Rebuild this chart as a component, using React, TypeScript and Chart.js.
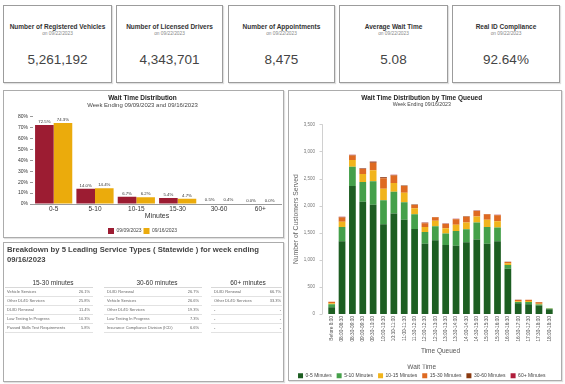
import React, { useEffect, useRef } from "react";
import { Chart, registerables } from "chart.js";

Chart.register(...registerables);

const FONT = "'Liberation Sans', Arial, Helvetica, sans-serif";

// ---------- KPI cards ----------
const kpiTitles = [
  "Number of Registered Vehicles",
  "Number of Licensed Drivers",
  "Number of Appointments",
  "Average Wait Time",
  "Real ID Compliance",
];
const kpiDates = ["on 09/22/2023", "on 09/22/2023", "on 09/22/2023", "on 09/22/2023", "on 09/22/2023"];
const kpiValues = ["5,261,192", "4,343,701", "8,475", "5.08", "92.64%"];

// ---------- Wait Time Distribution ----------
const minuteBuckets = ["0-5", "5-10", "10-15", "15-30", "30-60", "60+"];
const weekNames = ["09/09/2023", "09/16/2023"];
const week0909 = [72.5, 14.0, 6.7, 5.4, 0.5, 0.0];
const week0916 = [74.3, 14.4, 6.2, 4.7, 0.4, 0.0];

// ---------- Wait Time Distribution by Time Queued ----------
const timeSlots = [
  "Before 8:00", "08:00-08:30", "08:30-09:00", "09:00-09:30", "09:30-10:00", "10:00-10:30",
  "10:30-11:00", "11:00-11:30", "11:30-12:00", "12:00-12:30", "12:30-13:00", "13:00-13:30",
  "13:30-14:00", "14:00-14:30", "14:30-15:00", "15:00-15:30", "15:30-16:00", "16:00-16:30",
  "16:30-17:00", "17:00-17:30", "17:30-18:00", "18:00-18:30",
];
const waitBandNames = ["0-5 Minutes", "5-10 Minutes", "10-15 Minutes", "15-30 Minutes", "30-60 Minutes", "60+ Minutes"];
const wait0to5 = [125, 1340, 2360, 2070, 2015, 1655, 1855, 1740, 1570, 1295, 1360, 1272, 1260, 1325, 1375, 1295, 1340, 835, 200, 180, 155, 87];
const wait5to10 = [55, 265, 355, 365, 435, 445, 400, 320, 270, 220, 260, 215, 270, 240, 315, 310, 255, 70, 20, 40, 20, 15];
const wait10to15 = [20, 95, 125, 150, 200, 210, 160, 175, 110, 90, 100, 95, 118, 125, 110, 135, 118, 30, 15, 20, 15, 3];
const wait15to30 = [25, 80, 85, 90, 140, 195, 140, 125, 60, 70, 65, 80, 100, 105, 100, 100, 110, 25, 25, 22, 28, 0];
const wait30to60 = [3, 10, 10, 10, 20, 20, 10, 10, 10, 10, 5, 5, 7, 7, 7, 5, 5, 5, 3, 3, 5, 0];
const wait60plus = [0, 2, 2, 2, 3, 3, 2, 2, 1, 1, 1, 1, 1, 1, 1, 1, 1, 1, 0, 0, 0, 0];

// ---------- Breakdown table ----------
const tableHeaders = ["15-30 minutes", "30-60 minutes", "60+ minutes"];
const services1530 = ["Vehicle Services", "Other DL/ID Services", "DL/ID Renewal", "Law Testing In Progress", "Passed Skills Test Requirements"];
const shares1530 = ["26.1%", "25.8%", "11.4%", "10.3%", "5.8%"];
const services3060 = ["DL/ID Renewal", "Vehicle Services", "Other DL/ID Services", "Law Testing In Progress", "Insurance Compliance Division (ICD)"];
const shares3060 = ["26.7%", "26.6%", "19.3%", "7.3%", "6.6%"];
const services60 = ["DL/ID Renewal", "Other DL/ID Services", "-", "-", "-"];
const shares60 = ["66.7%", "33.3%", "-", "-", "-"];

const CRIMSON = "#9c1c32";
const GOLD = "#ebab0c";
const BAND_COLORS = ["#1d5e22", "#45a04a", "#f1b41c", "#de6a22", "#8a3a10", "#b01e3c"];

function legendHeight(h: number) {
  return {
    id: "legendHeightFix",
    beforeUpdate(chart: any) {
      const box = chart.legend;
      if (!box || box.__fixed) return;
      const orig = box.fit;
      box.fit = function () {
        orig.call(this);
        this.height = h;
      };
      box.__fixed = true;
    },
  };
}

const valueLabels = {
  id: "valueLabels",
  afterDatasetsDraw(chart: any) {
    const ctx = chart.ctx;
    ctx.save();
    ctx.font = `4.3px ${FONT}`;
    ctx.fillStyle = "#333";
    ctx.textAlign = "center";
    ctx.textBaseline = "bottom";
    chart.data.datasets.forEach((ds: any, i: number) => {
      const meta = chart.getDatasetMeta(i);
      meta.data.forEach((bar: any, j: number) => {
        const v = Number(ds.data[j]);
        ctx.fillText(v.toFixed(1) + "%", bar.x, bar.y - 1.2);
      });
    });
    ctx.restore();
  },
};

const axisLine = {
  id: "axisLine",
  afterDraw(chart: any) {
    const { ctx, chartArea } = chart;
    const y = chart.scales.y;
    const x = Math.round(chartArea.left - 4.5) + 0.5;
    ctx.save();
    ctx.strokeStyle = "#d0d0d0";
    ctx.lineWidth = 1;
    ctx.beginPath();
    ctx.moveTo(x, chartArea.top);
    ctx.lineTo(x, chartArea.bottom);
    y.ticks.forEach((t: any) => {
      const py = Math.round(y.getPixelForValue(t.value)) + 0.5;
      ctx.moveTo(x - 3, py);
      ctx.lineTo(x, py);
    });
    ctx.stroke();
    ctx.restore();
  },
};

function WaitDistChart() {
  const ref = useRef<HTMLCanvasElement>(null);
  useEffect(() => {
    const chart = new Chart(ref.current as HTMLCanvasElement, {
      type: "bar",
      data: {
        labels: minuteBuckets,
        datasets: [
          { label: weekNames[0], data: week0909, backgroundColor: CRIMSON, categoryPercentage: 0.9, barPercentage: 1 },
          { label: weekNames[1], data: week0916, backgroundColor: GOLD, categoryPercentage: 0.9, barPercentage: 1 },
        ],
      },
      options: {
        responsive: false,
        animation: false,
        devicePixelRatio: 1,
        layout: { padding: { left: 0, right: 2, top: 0, bottom: 0 } },
        plugins: {
          title: {
            display: true,
            text: "Wait Time Distribution",
            color: "#222",
            font: { family: FONT, size: 6.5, weight: "bold", lineHeight: 1 },
            padding: { top: 4.45, bottom: 0 },
          },
          subtitle: {
            display: true,
            text: "Week Ending 09/09/2023 and 09/16/2023",
            color: "#444",
            font: { family: FONT, size: 6, lineHeight: 1 },
            padding: { top: 0, bottom: 8.75 },
          },
          legend: {
            position: "bottom",
            labels: { boxWidth: 6, boxHeight: 6, padding: 2, color: "#444", font: { family: FONT, size: 5 } },
          },
          tooltip: { enabled: false },
        },
        scales: {
          x: {
            grid: { display: false, drawTicks: false },
            border: { display: true, color: "#9a9a9a" },
            ticks: { color: "#333", font: { family: FONT, size: 6.5 }, padding: 1.8, maxRotation: 0 },
            title: { display: true, text: "Minutes", color: "#333", font: { family: FONT, size: 7 }, padding: { top: 0, bottom: 6.1 } },
            afterFit: (s: any) => { s.height = 22; },
          },
          y: {
            min: 0,
            max: 80,
            ticks: { stepSize: 10, callback: (v: any) => v + "%", color: "#333", font: { family: FONT, size: 5 }, padding: 2 },
            grid: { drawOnChartArea: false, drawTicks: true, tickLength: 3, color: "#9a9a9a" },
            border: { display: false },
            afterFit: (s: any) => { s.width = 29; },
          },
        },
      } as any,
      plugins: [legendHeight(11), valueLabels],
    });
    return () => chart.destroy();
  }, []);
  return <canvas ref={ref} width={279} height={146} style={{ width: 279, height: 146, display: "block" }} />;
}

function TimeQueuedChart() {
  const ref = useRef<HTMLCanvasElement>(null);
  useEffect(() => {
    const series = [wait0to5, wait5to10, wait10to15, wait15to30, wait30to60, wait60plus];
    const chart = new Chart(ref.current as HTMLCanvasElement, {
      type: "bar",
      data: {
        labels: timeSlots,
        datasets: series.map((d, i) => ({
          label: waitBandNames[i],
          data: d,
          backgroundColor: BAND_COLORS[i],
          categoryPercentage: 0.65,
          barPercentage: 1,
          stack: "s",
        })),
      },
      options: {
        responsive: false,
        animation: false,
        devicePixelRatio: 1,
        layout: { padding: { left: 0, right: 6.5, top: 0, bottom: 0 } },
        plugins: {
          title: {
            display: true,
            text: "Wait Time Distribution by Time Queued",
            color: "#222",
            font: { family: FONT, size: 6.5, weight: "bold", lineHeight: 1 },
            padding: { top: 4.45, bottom: 0 },
          },
          subtitle: {
            display: true,
            text: "Week Ending 09/16/2023",
            color: "#444",
            font: { family: FONT, size: 5.2, lineHeight: 1 },
            padding: { top: 0.15, bottom: 17 },
          },
          legend: {
            position: "bottom",
            title: { display: true, text: "Wait Time", color: "#555", font: { family: FONT, size: 6.5 }, padding: { top: 0, bottom: -4.05 } },
            labels: { boxWidth: 5, boxHeight: 5, padding: 5, color: "#444", font: { family: FONT, size: 5 } },
          },
          tooltip: { enabled: false },
        },
        scales: {
          x: {
            stacked: true,
            grid: { display: false, drawTicks: false },
            border: { display: false },
            ticks: { color: "#555", font: { family: FONT, size: 4.8 }, padding: 2, minRotation: 90, maxRotation: 90, autoSkip: false },
            title: { display: true, text: "Time Queued", color: "#555", font: { family: FONT, size: 6.5 }, padding: { top: 0, bottom: 9.55 } },
            afterFit: (s: any) => { s.height = 50.45; },
          },
          y: {
            stacked: true,
            min: 0,
            max: 3500,
            ticks: { stepSize: 500, color: "#777", font: { family: FONT, size: 4.5 }, padding: 11.5 },
            grid: { display: false, drawTicks: false },
            border: { display: false },
            title: { display: true, text: "Number of Customers Served", color: "#666", font: { family: FONT, size: 6.8 }, padding: { top: 2.9, bottom: 0 } },
            afterFit: (s: any) => { s.width = 37.5; },
          },
        },
      } as any,
      plugins: [legendHeight(15.55), axisLine],
    });
    return () => chart.destroy();
  }, []);
  return <canvas ref={ref} width={272} height={289} style={{ width: 272, height: 289, display: "block" }} />;
}

type TextProps = {
  x: number;
  cy: number;
  w?: number;
  size: number;
  align?: "left" | "right" | "center";
  bold?: boolean;
  color?: string;
  children: React.ReactNode;
};

function Txt({ x, cy, w = 0, size, align = "left", bold, color = "#333", children }: TextProps) {
  const lh = Math.ceil(size * 1.3);
  let left = x;
  if (align === "center") left = x - w / 2;
  if (align === "right") left = x - w;
  return (
    <div
      style={{
        position: "absolute",
        left,
        top: cy - lh / 2,
        width: w || undefined,
        height: lh,
        lineHeight: lh + "px",
        fontSize: size,
        fontWeight: bold ? "bold" : "normal",
        color,
        textAlign: align,
        whiteSpace: "nowrap",
      }}
    >
      {children}
    </div>
  );
}

const cardBoxes = [
  { left: 3, width: 109 },
  { left: 116, width: 107 },
  { left: 228, width: 107 },
  { left: 339, width: 109 },
  { left: 452, width: 108 },
];

const panelStyle: React.CSSProperties = {
  position: "absolute",
  boxSizing: "border-box",
  border: "1px solid #acacac",
  boxShadow: "1px 1px 1px rgba(0,0,0,0.12)",
  background: "#fff",
};

export default function App() {
  const cols = [
    { names: services1530, vals: shares1530, labelX: 7, valX: 90, lineA: 5, lineB: 93, head: 53 },
    { names: services3060, vals: shares3060, labelX: 107, valX: 199, lineA: 104, lineB: 202, head: 157 },
    { names: services60, vals: shares60, labelX: 214, valX: 281, lineA: 211, lineB: 282, head: 248 },
  ];
  return (
    <div
      style={{
        position: "fixed",
        left: 0,
        top: 0,
        width: 565,
        height: 384,
        background: "#fff",
        overflow: "hidden",
        fontFamily: FONT,
      }}
    >
      {cardBoxes.map((c, i) => {
        const cx = c.left + c.width / 2;
        return (
          <React.Fragment key={i}>
            <div style={{ ...panelStyle, left: c.left, top: 5, width: c.width, height: 78, border: "1px solid #9c9c9c" }} />
            <Txt x={cx} cy={26.8} w={c.width} size={6.5} align="center" bold color="#333">{kpiTitles[i]}</Txt>
            <Txt x={cx} cy={33.6} w={c.width} size={4.8} align="center" color="#888">{kpiDates[i]}</Txt>
            <Txt x={cx} cy={60} w={c.width} size={13.5} align="center" color="#444">{kpiValues[i]}</Txt>
          </React.Fragment>
        );
      })}

      <div style={{ ...panelStyle, left: 3, top: 90, width: 281, height: 148 }}>
        <WaitDistChart />
      </div>

      <div style={{ ...panelStyle, left: 288, top: 90, width: 274, height: 291 }}>
        <TimeQueuedChart />
      </div>

      <div style={{ ...panelStyle, left: 3, top: 242, width: 281, height: 140 }} />
      <Txt x={7} cy={249.3} size={7.7} bold color="#444">Breakdown by 5 Leading Service Types ( Statewide ) for week ending</Txt>
      <Txt x={7} cy={259.3} size={7.7} bold color="#444">09/16/2023</Txt>
      {cols.map((c, ci) => (
        <React.Fragment key={ci}>
          <Txt x={c.head} cy={282.7} w={100} size={6.5} align="center" color="#333">{tableHeaders[ci]}</Txt>
          <div style={{ position: "absolute", left: c.lineA, top: 286.7, width: c.lineB - c.lineA, height: 0, borderTop: "1px solid #d8d8d8" }} />
          {c.names.map((n, ri) => {
            const cy = 291.7 + ri * 9;
            return (
              <React.Fragment key={ri}>
                <Txt x={c.labelX} cy={cy} size={4} color="#666">{n}</Txt>
                <Txt x={c.valX} cy={cy} w={30} size={4} align="right" color="#666">{c.vals[ri]}</Txt>
                <div style={{ position: "absolute", left: c.lineA, top: cy + 4.5, width: c.lineB - c.lineA, height: 0, borderTop: "1px solid #e2e2e2" }} />
              </React.Fragment>
            );
          })}
        </React.Fragment>
      ))}
    </div>
  );
}
